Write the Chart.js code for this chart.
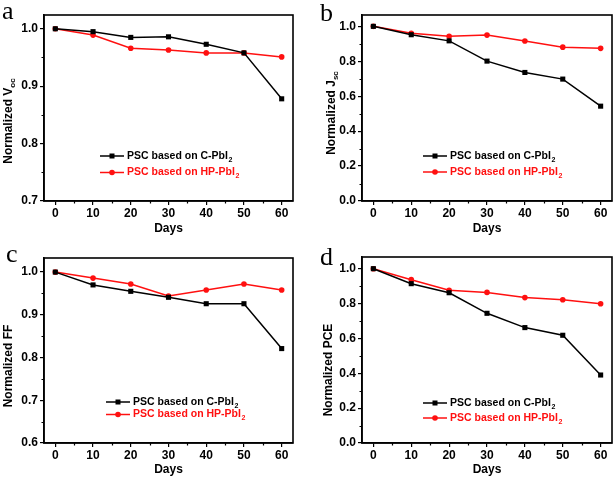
<!DOCTYPE html>
<html>
<head>
<meta charset="utf-8">
<script src="https://cdn.jsdelivr.net/npm/chart.js@4.4.1/dist/chart.umd.min.js"></script>
<style>
  html, body { margin: 0; padding: 0; background: #fff; }
  #fig { position: relative; width: 616px; height: 481px; overflow: hidden; }
  #fig canvas { position: absolute; }
</style>
</head>
<body>
<div id="fig">
  <canvas id="pa" width="308" height="240" style="left:0;top:0"></canvas>
  <canvas id="pb" width="308" height="240" style="left:308px;top:0"></canvas>
  <canvas id="pc" width="308" height="241" style="left:0;top:240px"></canvas>
  <canvas id="pd" width="308" height="241" style="left:308px;top:240px"></canvas>
</div>
<script>
// ─── Data ─────────────────────────────────────────────────────────────────────

const DAYS = [0, 10, 20, 30, 40, 50, 60];

const VOC_C  = [1.000, 0.995, 0.985, 0.986, 0.973, 0.958, 0.878];
const VOC_HP = [1.000, 0.989, 0.966, 0.963, 0.958, 0.958, 0.951];

const JSC_C  = [1.000, 0.952, 0.917, 0.801, 0.736, 0.698, 0.543];
const JSC_HP = [1.000, 0.960, 0.943, 0.950, 0.916, 0.881, 0.874];

const FF_C   = [1.000, 0.970, 0.955, 0.941, 0.926, 0.926, 0.821];
const FF_HP  = [1.000, 0.986, 0.972, 0.944, 0.958, 0.972, 0.958];

const PCE_C  = [1.000, 0.914, 0.862, 0.744, 0.662, 0.618, 0.390];
const PCE_HP = [1.000, 0.937, 0.876, 0.864, 0.834, 0.822, 0.799];

const X_TICKS       = [0, 10, 20, 30, 40, 50, 60];
const X_MINOR       = [5, 15, 25, 35, 45, 55];
const Y_TICKS_VOC   = [0.7, 0.8, 0.9, 1.0];
const Y_MINOR_VOC   = [0.75, 0.85, 0.95];
const Y_TICKS_FF    = [0.6, 0.7, 0.8, 0.9, 1.0];
const Y_MINOR_FF    = [0.65, 0.75, 0.85, 0.95];
const Y_TICKS_UNIT  = [0, 0.2, 0.4, 0.6, 0.8, 1.0];
const Y_MINOR_UNIT  = [0.1, 0.3, 0.5, 0.7, 0.9];

const SERIES_LABELS = ["PSC based on C-PbI", "PSC based on HP-PbI"];
const LABEL_SUB     = "2";
const X_TITLE       = "Days";

// ─── Style ────────────────────────────────────────────────────────────────────

const FONT   = "'Liberation Sans', Arial, sans-serif";
const SERIF  = "'Liberation Serif', 'Times New Roman', serif";
const BLACK  = "#000000";
const RED    = "#ff1010";

// ─── Panel decorations plugin ─────────────────────────────────────────────────

const panelDeco = {
  id: "panelDeco",
  afterDraw(chart, _args, o) {
    const { ctx, chartArea: { left, right, top, bottom }, scales: { x, y } } = chart;
    ctx.save();

    // frame
    ctx.strokeStyle = BLACK;
    ctx.lineWidth = 1.6;
    ctx.strokeRect(left, top, right - left, bottom - top);

    // minor ticks
    ctx.lineWidth = 1.2;
    ctx.beginPath();
    for (const v of X_MINOR) {
      const px = Math.round(x.getPixelForValue(v)) + 0.5;
      ctx.moveTo(px, bottom);
      ctx.lineTo(px, bottom + 2.5);
    }
    for (const v of o.yMinor) {
      const py = Math.round(y.getPixelForValue(v)) + 0.5;
      ctx.moveTo(left, py);
      ctx.lineTo(left - 2.5, py);
    }
    ctx.stroke();

    // panel letter
    ctx.fillStyle = BLACK;
    ctx.font = `26px ${SERIF}`;
    ctx.textAlign = "left";
    ctx.textBaseline = "alphabetic";
    ctx.fillText(o.letter, o.letterX, o.letterY);

    // y title with optional subscript
    ctx.save();
    ctx.translate(o.yTitleX, o.yTitleY);
    ctx.rotate(-Math.PI / 2);
    ctx.textBaseline = "middle";
    ctx.font = `bold 12px ${FONT}`;
    const wMain = ctx.measureText(o.yTitle[0]).width;
    ctx.font = `bold 8px ${FONT}`;
    const wSub = o.yTitle[1] ? ctx.measureText(o.yTitle[1]).width : 0;
    const x0 = -(wMain + wSub) / 2;
    ctx.font = `bold 12px ${FONT}`;
    ctx.fillText(o.yTitle[0], x0, 0);
    if (o.yTitle[1]) {
      ctx.font = `bold 8px ${FONT}`;
      ctx.fillText(o.yTitle[1], x0 + wMain, 4);
    }
    ctx.restore();

    // legend
    const colors = [BLACK, RED];
    const styles = ["rect", "circle"];
    for (let i = 0; i < SERIES_LABELS.length; i++) {
      const lx = left + o.legendX;
      const ly = top + o.legendY + i * o.legendGap;
      ctx.strokeStyle = colors[i];
      ctx.fillStyle = colors[i];
      ctx.lineWidth = 1.5;
      ctx.beginPath();
      ctx.moveTo(lx, ly);
      ctx.lineTo(lx + 24, ly);
      ctx.stroke();
      if (styles[i] === "rect") {
        ctx.fillRect(lx + 12 - 2.5, ly - 2.5, 5, 5);
      } else {
        ctx.beginPath();
        ctx.arc(lx + 12, ly, 2.8, 0, Math.PI * 2);
        ctx.fill();
      }
      ctx.font = `bold 10.5px ${FONT}`;
      ctx.textBaseline = "middle";
      ctx.fillText(SERIES_LABELS[i], lx + 27, ly);
      const w = ctx.measureText(SERIES_LABELS[i]).width;
      ctx.font = `bold 7px ${FONT}`;
      ctx.fillText(LABEL_SUB, lx + 27 + w + 0.5, ly + 4);
    }

    ctx.restore();
  },
};

// ─── Builder ──────────────────────────────────────────────────────────────────

const toPoints = (vals) => DAYS.map((d, i) => ({ x: d, y: vals[i] }));

function makePanel(id, p) {
  const ctx = document.getElementById(id).getContext("2d");
  return new Chart(ctx, {
    type: "line",
    data: {
      datasets: [
        {
          label: SERIES_LABELS[0],
          data: toPoints(p.black),
          borderColor: BLACK,
          backgroundColor: BLACK,
          borderWidth: 1.5,
          pointStyle: "rect",
          pointRadius: 3.6,
          pointBorderWidth: 0,
          tension: 0,
        },
        {
          label: SERIES_LABELS[1],
          data: toPoints(p.red),
          borderColor: RED,
          backgroundColor: RED,
          borderWidth: 1.5,
          pointStyle: "circle",
          pointRadius: 2.8,
          pointBorderWidth: 0,
          tension: 0,
        },
      ],
    },
    options: {
      responsive: false,
      animation: false,
      devicePixelRatio: 1,
      layout: { padding: { top: p.top, right: p.right, left: 0, bottom: 0 } },
      plugins: {
        legend: { display: false },
        tooltip: { enabled: false },
        panelDeco: p.deco,
      },
      scales: {
        x: {
          type: "linear",
          min: -3,
          max: 63,
          afterBuildTicks: (s) => { s.ticks = X_TICKS.map((v) => ({ value: v })); },
          afterFit: (s) => { s.height = p.xAxisH; },
          ticks: { color: BLACK, padding: 1, font: { family: FONT, size: 12, weight: "bold" } },
          grid: { drawOnChartArea: false, drawTicks: true, tickLength: 4, color: BLACK, lineWidth: 1.2 },
          border: { display: true, color: BLACK, width: 1.6 },
          title: { display: true, text: X_TITLE, color: BLACK, padding: { top: 0, bottom: 4 }, font: { family: FONT, size: 12, weight: "bold" } },
        },
        y: {
          type: "linear",
          min: p.ymin,
          max: p.ymax,
          afterBuildTicks: (s) => { s.ticks = p.yTicks.map((v) => ({ value: v })); },
          afterFit: (s) => { s.width = p.yAxisW; },
          ticks: {
            color: BLACK,
            padding: 2,
            font: { family: FONT, size: 12, weight: "bold" },
            callback: (v) => Number(v).toFixed(1),
          },
          grid: { drawOnChartArea: false, drawTicks: true, tickLength: 4, color: BLACK, lineWidth: 1.2 },
          border: { display: true, color: BLACK, width: 1.6 },
        },
      },
    },
    plugins: [panelDeco],
  });
}

// ─── Panels ───────────────────────────────────────────────────────────────────

makePanel("pa", {
  black: VOC_C, red: VOC_HP, ymin: 0.7, ymax: 1.024, yTicks: Y_TICKS_VOC,
  top: 15, right: 15, yAxisW: 44, xAxisH: 39,
  deco: { letter: "a", letterX: 2, letterY: 19, yTitle: ["Normalized V", "oc"], yTitleX: 9, yTitleY: 121,
          yMinor: Y_MINOR_VOC, legendX: 56, legendY: 141, legendGap: 16.5 },
});

makePanel("pb", {
  black: JSC_C, red: JSC_HP, ymin: 0, ymax: 1.065, yTicks: Y_TICKS_UNIT,
  top: 15, right: 2, yAxisW: 54, xAxisH: 39,
  deco: { letter: "b", letterX: 12, letterY: 21, yTitle: ["Normalized J", "sc"], yTitleX: 24, yTitleY: 113,
          yMinor: Y_MINOR_UNIT, legendX: 61, legendY: 141, legendGap: 16 },
});

makePanel("pc", {
  black: FF_C, red: FF_HP, ymin: 0.6, ymax: 1.033, yTicks: Y_TICKS_FF,
  top: 18, right: 15, yAxisW: 44, xAxisH: 38,
  deco: { letter: "c", letterX: 6, letterY: 22, yTitle: ["Normalized FF", ""], yTitleX: 9, yTitleY: 126,
          yMinor: Y_MINOR_FF, legendX: 62, legendY: 144, legendGap: 12.5 },
});

makePanel("pd", {
  black: PCE_C, red: PCE_HP, ymin: 0, ymax: 1.067, yTicks: Y_TICKS_UNIT,
  top: 17, right: 2, yAxisW: 54, xAxisH: 38,
  deco: { letter: "d", letterX: 12, letterY: 25, yTitle: ["Normalized PCE", ""], yTitleX: 21, yTitleY: 130,
          yMinor: Y_MINOR_UNIT, legendX: 61, legendY: 146, legendGap: 15 },
});
</script>
</body>
</html>
